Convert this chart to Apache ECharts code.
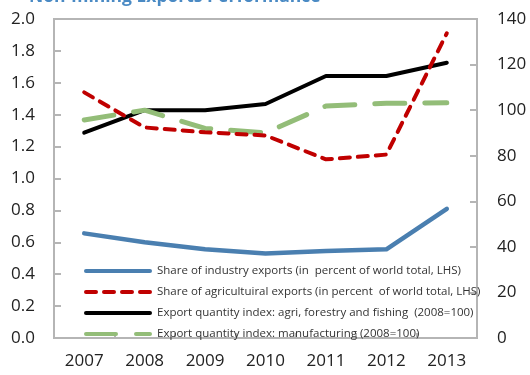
<!DOCTYPE html>
<html>
<head>
<meta charset="utf-8">
<script src="https://cdn.jsdelivr.net/npm/echarts@6/dist/echarts.min.js"></script>
<style>
  html, body { margin: 0; padding: 0; background: #fff; }
  #chart { width: 530px; height: 375px; }
</style>
</head>
<body>
<div id="chart"></div>
<script>
// Years on the category axis
const years = ['2007', '2008', '2009', '2010', '2011', '2012', '2013'];

// Shares of world total, in percent (left axis)
const industryShare = [0.656, 0.60, 0.556, 0.53, 0.545, 0.556, 0.81];
const agriShare = [1.54, 1.32, 1.29, 1.27, 1.12, 1.15, 1.91];

// Export quantity indices, 2008 = 100 (right axis)
const agriIndex = [90.1, 100, 100, 102.7, 115, 115, 120.8];
const manufIndex = [95.7, 100, 92, 90, 101.8, 103, 103.2];

const seriesNames = [
  'Share of industry exports (in  percent of world total, LHS)',
  'Share of agricultuiral exports (in percent  of world total, LHS)',
  'Export quantity index: agri, forestry and fishing  (2008=100)',
  'Export quantity index: manufacturing (2008=100)'
];

const gray = '#b5b5b5';
const font = '"Open Sans", "Noto Sans", sans-serif';

const chart = echarts.init(document.getElementById('chart'));
chart.setOption({
  animation: false,
  title: {
    text: 'Non-mining Exports Performance',
    left: 24,
    top: -17,
    textStyle: { color: '#4a8ac4', fontSize: 17.5, fontWeight: 'bold', fontFamily: font }
  },
  grid: {
    left: 54, right: 53, top: 19, bottom: 37,
    show: true, borderColor: gray, borderWidth: 2, backgroundColor: 'transparent'
  },
  legend: {
    orient: 'vertical',
    left: 84, top: 265, padding: 0,
    itemWidth: 64, itemHeight: 8, itemGap: 9,
    itemStyle: { opacity: 0 },
    lineStyle: { width: 4 },
    textStyle: { color: '#333', fontSize: 11.5, fontFamily: font, padding: [0, 0, 0, 2] },
    data: seriesNames
  },
  xAxis: {
    type: 'category',
    data: years,
    boundaryGap: true,
    axisLine: { lineStyle: { color: gray, width: 2 } },
    axisTick: { show: true, inside: true, length: 5, lineStyle: { color: gray, width: 2 } },
    axisLabel: { color: '#222', fontSize: 17, fontFamily: font, margin: 15 }
  },
  yAxis: [
    {
      type: 'value', min: 0, max: 2, interval: 0.2,
      splitLine: { show: false },
      axisLine: { show: true, lineStyle: { color: gray, width: 2 } },
      axisTick: { show: true, inside: true, length: 7, lineStyle: { color: gray, width: 2 } },
      axisLabel: { color: '#222', fontSize: 17, fontFamily: font, margin: 19,
        formatter: v => v.toFixed(1) }
    },
    {
      type: 'value', min: 0, max: 140, interval: 20,
      splitLine: { show: false },
      axisLine: { show: true, lineStyle: { color: gray, width: 2 } },
      axisTick: { show: true, inside: true, length: 7, lineStyle: { color: gray, width: 2 } },
      axisLabel: { color: '#222', fontSize: 17, fontFamily: font, margin: 20 }
    }
  ],
  series: [
    {
      name: seriesNames[0], type: 'line', yAxisIndex: 0, data: industryShare,
      symbol: 'none', z: 3,
      lineStyle: { color: '#4a7fb0', width: 4.5, cap: 'round', join: 'round' },
      itemStyle: { color: '#4a7fb0' }
    },
    {
      name: seriesNames[1], type: 'line', yAxisIndex: 0, data: agriShare,
      symbol: 'none', z: 4,
      lineStyle: { color: '#c00000', width: 4, type: [10, 8], cap: 'round', join: 'round' },
      itemStyle: { color: '#c00000' }
    },
    {
      name: seriesNames[2], type: 'line', yAxisIndex: 1, data: agriIndex,
      symbol: 'none', z: 2,
      lineStyle: { color: '#000', width: 4, cap: 'round', join: 'round' },
      itemStyle: { color: '#000' }
    },
    {
      name: seriesNames[3], type: 'line', yAxisIndex: 1, data: manufIndex,
      symbol: 'none', z: 2,
      lineStyle: { color: '#93bd78', width: 5, type: [30, 20], cap: 'round', join: 'round' },
      itemStyle: { color: '#93bd78' }
    }
  ]
});
</script>
</body>
</html>
